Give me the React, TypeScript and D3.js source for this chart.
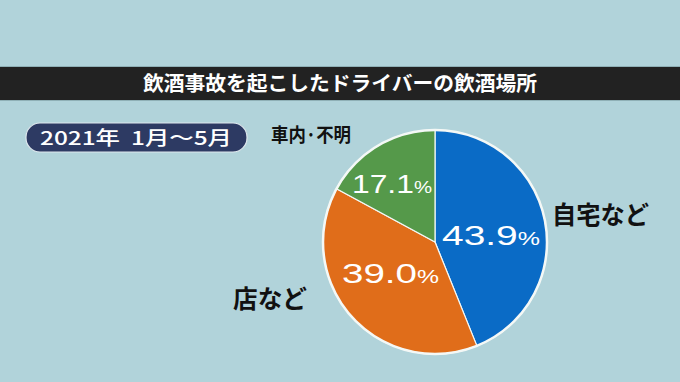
import React from "react";
import * as d3 from "d3";

const categories = ["自宅など", "店など", "車内·不明"];
const values = [43.9, 39.0, 17.1];
const colors = ["#0a6bc6", "#e06d1a", "#55994a"];
const title = "飲酒事故を起こしたドライバーの飲酒場所";
const period = "2021年  1月～5月";

const W = 680, H = 382;
const cx = 435, cy = 242, R = 112;

export default function App() {
  const pie = d3.pie<number>().sort(null).value((d) => d)(values);
  const arc = d3.arc<d3.PieArcDatum<number>>().innerRadius(0).outerRadius(R);
  const font = "'Noto Sans CJK JP', 'Noto Sans', sans-serif";
  const pctPos = [
    { x: 442, y: 245, size: 28, ps: 18, len: 98 },
    { x: 342, y: 283, size: 28, ps: 18, len: 97 },
    { x: 352, y: 193, size: 25, ps: 16, len: 80 },
  ];
  const catPos = [
    { x: 552, y: 224, size: 25, len: 97 },
    { x: 233, y: 308, size: 25, len: 74 },
    { x: 271, y: 142, size: 19, len: 80 },
  ];
  return (
    <svg width={W} height={H} style={{ position: "absolute", left: 0, top: 0, fontFamily: font }}>
      <rect width={W} height={H} fill="#b1d3da" />
      <rect x={0} y={67} width={W} height={33} fill="#222222" />
      <line x1={0} x2={W} y1={66.5} y2={66.5} stroke="#8fb0b6" />
      <line x1={0} x2={W} y1={100.5} y2={100.5} stroke="#8fb0b6" />
      <text x={W / 2} y={91} textAnchor="middle" fill="#fff" fontSize={20} fontWeight={700} textLength={394} lengthAdjust="spacingAndGlyphs">{title}</text>
      <rect x={26} y={123} width={221} height={29} rx={14} fill="#2d3a63" stroke="#dfe8ee" strokeWidth={1.2} />
      <text x={40} y={144.5} fill="#fff" fontSize={19} fontWeight={500} xmlSpace="preserve" textLength={192} lengthAdjust="spacingAndGlyphs">{period}</text>
      <g transform={`translate(${cx},${cy})`}>
        {pie.map((p, i) => (
          <path key={i} d={arc(p) || ""} fill={colors[i]} stroke="#f4f8f6" strokeWidth={1.2} />
        ))}
        <circle r={R} fill="none" stroke="#f4f8f6" strokeWidth={2.5} />
      </g>
      {pie.map((p, i) => (
        <text key={"p" + i} x={pctPos[i].x} y={pctPos[i].y} fill="#fff" fontSize={pctPos[i].size} fontWeight={500} fontFamily="'Liberation Sans', Arial, sans-serif" textLength={pctPos[i].len} lengthAdjust="spacingAndGlyphs">
          {values[i].toFixed(1)}
          <tspan fontSize={pctPos[i].ps}>%</tspan>
        </text>
      ))}
      {categories.map((c, i) => (
        <text key={"c" + i} x={catPos[i].x} y={catPos[i].y} fill="#111" fontSize={catPos[i].size} fontWeight={700} textLength={catPos[i].len} lengthAdjust="spacingAndGlyphs">{c}</text>
      ))}
    </svg>
  );
}
